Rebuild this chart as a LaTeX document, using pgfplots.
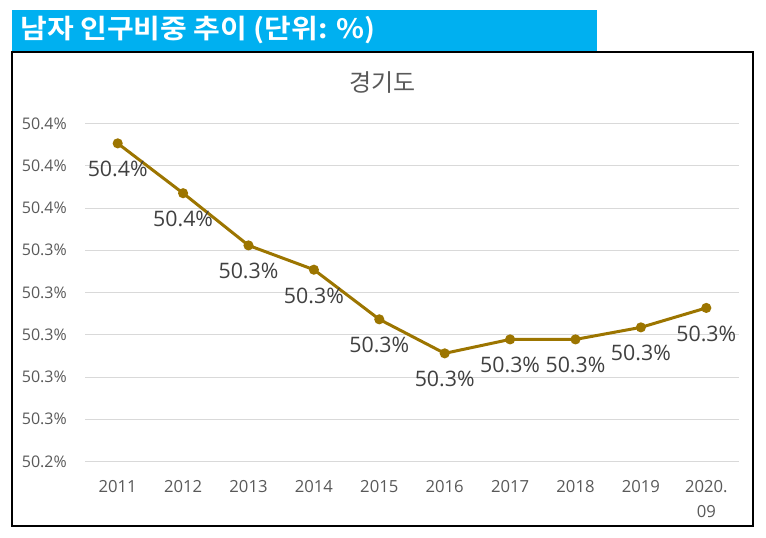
\documentclass[border=0pt]{standalone}
\usepackage{pgfplots}
\pgfplotsset{compat=1.18}
\usepackage{fontspec}
\setmainfont{Open Sans}
\newfontfamily\kr{Noto Sans CJK KR}
\newfontfamily\krb{Noto Sans CJK KR Bold}
\definecolor{banner}{RGB}{0,176,240}
\definecolor{linec}{RGB}{156,117,0}
\definecolor{gridc}{RGB}{217,217,217}
\definecolor{tickc}{RGB}{89,89,89}
\definecolor{labc}{RGB}{64,64,64}
\begin{document}
\begin{tikzpicture}
\path[use as bounding box] (0,0) rectangle (574.5pt,402.75pt);
% banner
\fill[banner] (9.2pt,364.7pt) rectangle (447.5pt,395.25pt);
\node[anchor=west, inner sep=0pt, text=white, font=\krb\fontsize{20}{22}\selectfont] at (15pt,379.9pt) {\scalebox{1.09}[1]{남자 인구비중 추이 (단위: \%)}};
% outer box
\draw[black, line width=1.5pt] (9.2pt,7.9pt) rectangle (565pt,364pt);
% chart title
\node[text=tickc, inner sep=0pt, font=\kr\fontsize{18}{20}\selectfont] at (287.1pt,340.5pt) {경기도};
\begin{axis}[
  at={(63.75pt,56.625pt)}, anchor=south west,
  scale only axis, width=490.5pt, height=253.5pt,
  xmin=-0.5, xmax=9.5, ymin=50.24, ymax=50.40,
  xtick={0,1,2,3,4,5,6,7,8,9},
  xticklabels={2011,2012,2013,2014,2015,2016,2017,2018,2019,{2020.\\09}},
  ytick={50.24,50.26,50.28,50.30,50.32,50.34,50.36,50.38,50.40},
  yticklabels={50.2\%,50.3\%,50.3\%,50.3\%,50.3\%,50.3\%,50.4\%,50.4\%,50.4\%},
  major tick length=0pt,
  axis line style={draw=none},
  ymajorgrids, grid style={draw=gridc, line width=0.75pt},
  xticklabel style={anchor=north, inner sep=0pt, yshift=-13.9pt, align=center, text=tickc, font=\fontsize{12.5}{18.75}\selectfont},
  yticklabel style={anchor=east, inner sep=0pt, xshift=-13.5pt, text=tickc, font=\fontsize{12}{14}\selectfont},
  clip=false,
  point meta=y,
  nodes near coords={\pgfmathprintnumber[fixed,fixed zerofill,precision=1,assume math mode=true]{\pgfplotspointmeta}\%},
  every node near coord/.append style={anchor=center, yshift=-19.5pt, text=labc, font=\fontsize{16}{18}\selectfont},
]
\addplot[color=linec, line width=2.25pt, mark=*, mark size=2.6pt, mark options={fill=linec, draw=linec}] coordinates {
(0,50.3906) (1,50.3670) (2,50.3423) (3,50.3308) (4,50.3073)
(5,50.2912) (6,50.2978) (7,50.2978) (8,50.3035) (9,50.3127)
};
\end{axis}
\end{tikzpicture}
\end{document}
